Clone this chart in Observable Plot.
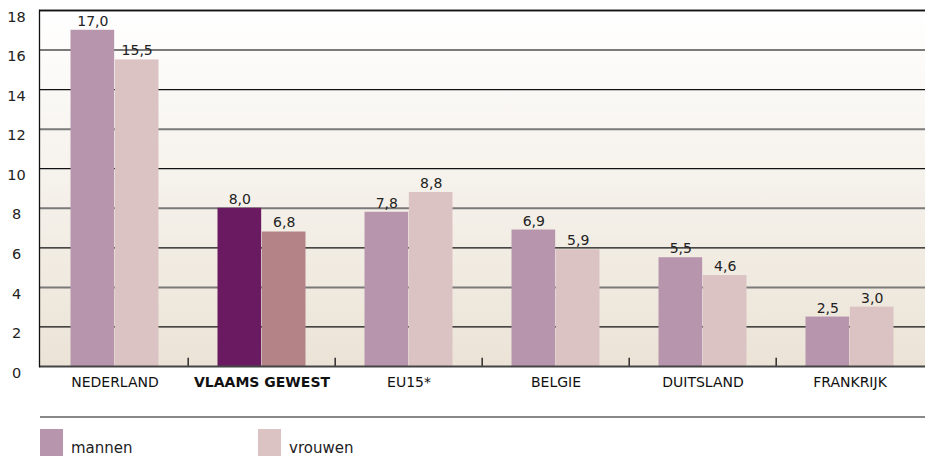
<!DOCTYPE html>
<html>
<head>
<meta charset="utf-8">
<script src="https://cdn.jsdelivr.net/npm/d3@7"></script>
<script src="https://cdn.jsdelivr.net/npm/@observablehq/plot@0.6"></script>
<style>
  body { margin: 0; background: #fff; font-family: "DejaVu Sans", sans-serif; }
  #chart { width: 925px; }
  #chart svg { display: block; }
  .legend { margin: 6px 0 0 40px; border-top: 2px solid #888; padding-top: 11px; display: flex; font-size: 15px; color: #222; }
  .item { display: flex; align-items: flex-start; }
  .item span { line-height: 1; margin-top: 12px; }
  .sw { width: 23px; height: 27px; margin-right: 8px; }
</style>
</head>
<body>
<div id="chart"></div>
<script>
const countries = ["NEDERLAND", "VLAAMS GEWEST", "EU15*", "BELGIE", "DUITSLAND", "FRANKRIJK"];
const mannen = [17.0, 8.0, 7.8, 6.9, 5.5, 2.5];
const vrouwen = [15.5, 6.8, 8.8, 5.9, 4.6, 3.0];
const yTicks = [0, 2, 4, 6, 8, 10, 12, 14, 16, 18];
const highlight = "VLAAMS GEWEST";

const colors = {
  mannen: "#b795ad", vrouwen: "#dbc3c3",
  mannenH: "#6a1a60", vrouwenH: "#b38387"
};

const men = countries.map((c, i) => ({country: c, value: mannen[i]}));
const women = countries.map((c, i) => ({country: c, value: vrouwen[i]}));
const fmt = v => v.toFixed(1).replace(".", ",");

const W = 925, mL = 39;
const step = (W - mL) / countries.length;   // band width per country
const outer = 29.5, bw = (step - 2 * outer) / 2;

const chart = Plot.plot({
  width: W,
  height: 410,
  marginTop: 10,
  marginLeft: mL,
  marginRight: 0,
  marginBottom: 44,
  style: {fontFamily: "DejaVu Sans, sans-serif", fontSize: "14px", color: "#222", background: "transparent", overflow: "visible"},
  x: {domain: countries, padding: 0, axis: null},
  y: {domain: [0, 18], axis: null},
  marks: [
    Plot.frame({fill: "url(#bgGrad)", stroke: null}),
    Plot.ruleY(yTicks.filter(t => t % 4 === 2), {stroke: "#111", strokeWidth: 1.3}),
    Plot.ruleY(yTicks.filter(t => t > 0 && t % 4 === 0), {stroke: "#7a7a7a", strokeWidth: 2}),
    Plot.ruleY([18], {stroke: "#111", strokeWidth: 1.3}),
    Plot.barY(men, {x: "country", y: "value", insetLeft: outer, insetRight: outer + bw,
      fill: d => d.country === highlight ? colors.mannenH : colors.mannen}),
    Plot.barY(women, {x: "country", y: "value", insetLeft: outer + bw, insetRight: outer,
      fill: d => d.country === highlight ? colors.vrouwenH : colors.vrouwen}),
    Plot.text(men, {x: "country", y: "value", text: d => fmt(d.value), dx: -bw / 2, dy: -9, fontSize: 14, fill: "#222"}),
    Plot.text(women, {x: "country", y: "value", text: d => fmt(d.value), dx: bw / 2, dy: -9, fontSize: 14, fill: "#222"}),
    Plot.ruleX(countries.slice(1), {x: d => d, y1: 0, y2: 0.42, dx: -step / 2, stroke: "#111", strokeWidth: 1.3}),
    Plot.ruleY([0], {stroke: "#444", strokeWidth: 2}),
    Plot.frame({anchor: "left", stroke: "#111", strokeWidth: 1.3}),
    Plot.text(yTicks, {y: d => d, frameAnchor: "left", dx: -23, dy: 6.5, textAnchor: "middle", text: d => String(d), fontSize: 14.5, fill: "#222"}),
    Plot.text(countries.filter(c => c !== highlight), {x: d => d, frameAnchor: "bottom", dy: 20, text: d => d, fontSize: 14, fill: "#111"}),
    Plot.text([highlight], {x: d => d, frameAnchor: "bottom", dy: 20, text: d => d, fontSize: 14, fontWeight: "bold", fill: "#111"})
  ]
});

// background gradient for the plot frame
const svg = d3.select(chart);
const defs = svg.insert("defs", ":first-child");
const grad = defs.append("linearGradient").attr("id", "bgGrad").attr("x1", 0).attr("y1", 0).attr("x2", 0).attr("y2", 1);
grad.append("stop").attr("offset", "0%").attr("stop-color", "#ffffff");
grad.append("stop").attr("offset", "100%").attr("stop-color", "#ebe3d6");

const container = document.getElementById("chart");
container.appendChild(chart);

const legend = document.createElement("div");
legend.className = "legend";
[["mannen", colors.mannen, 218], ["vrouwen", colors.vrouwen, 0]].forEach(([label, col, gap]) => {
  const it = document.createElement("div");
  it.className = "item";
  it.style.width = gap ? gap + "px" : "auto";
  it.innerHTML = `<div class="sw" style="background:${col}"></div><span>${label}</span>`;
  legend.appendChild(it);
});
container.appendChild(legend);
</script>
</body>
</html>
